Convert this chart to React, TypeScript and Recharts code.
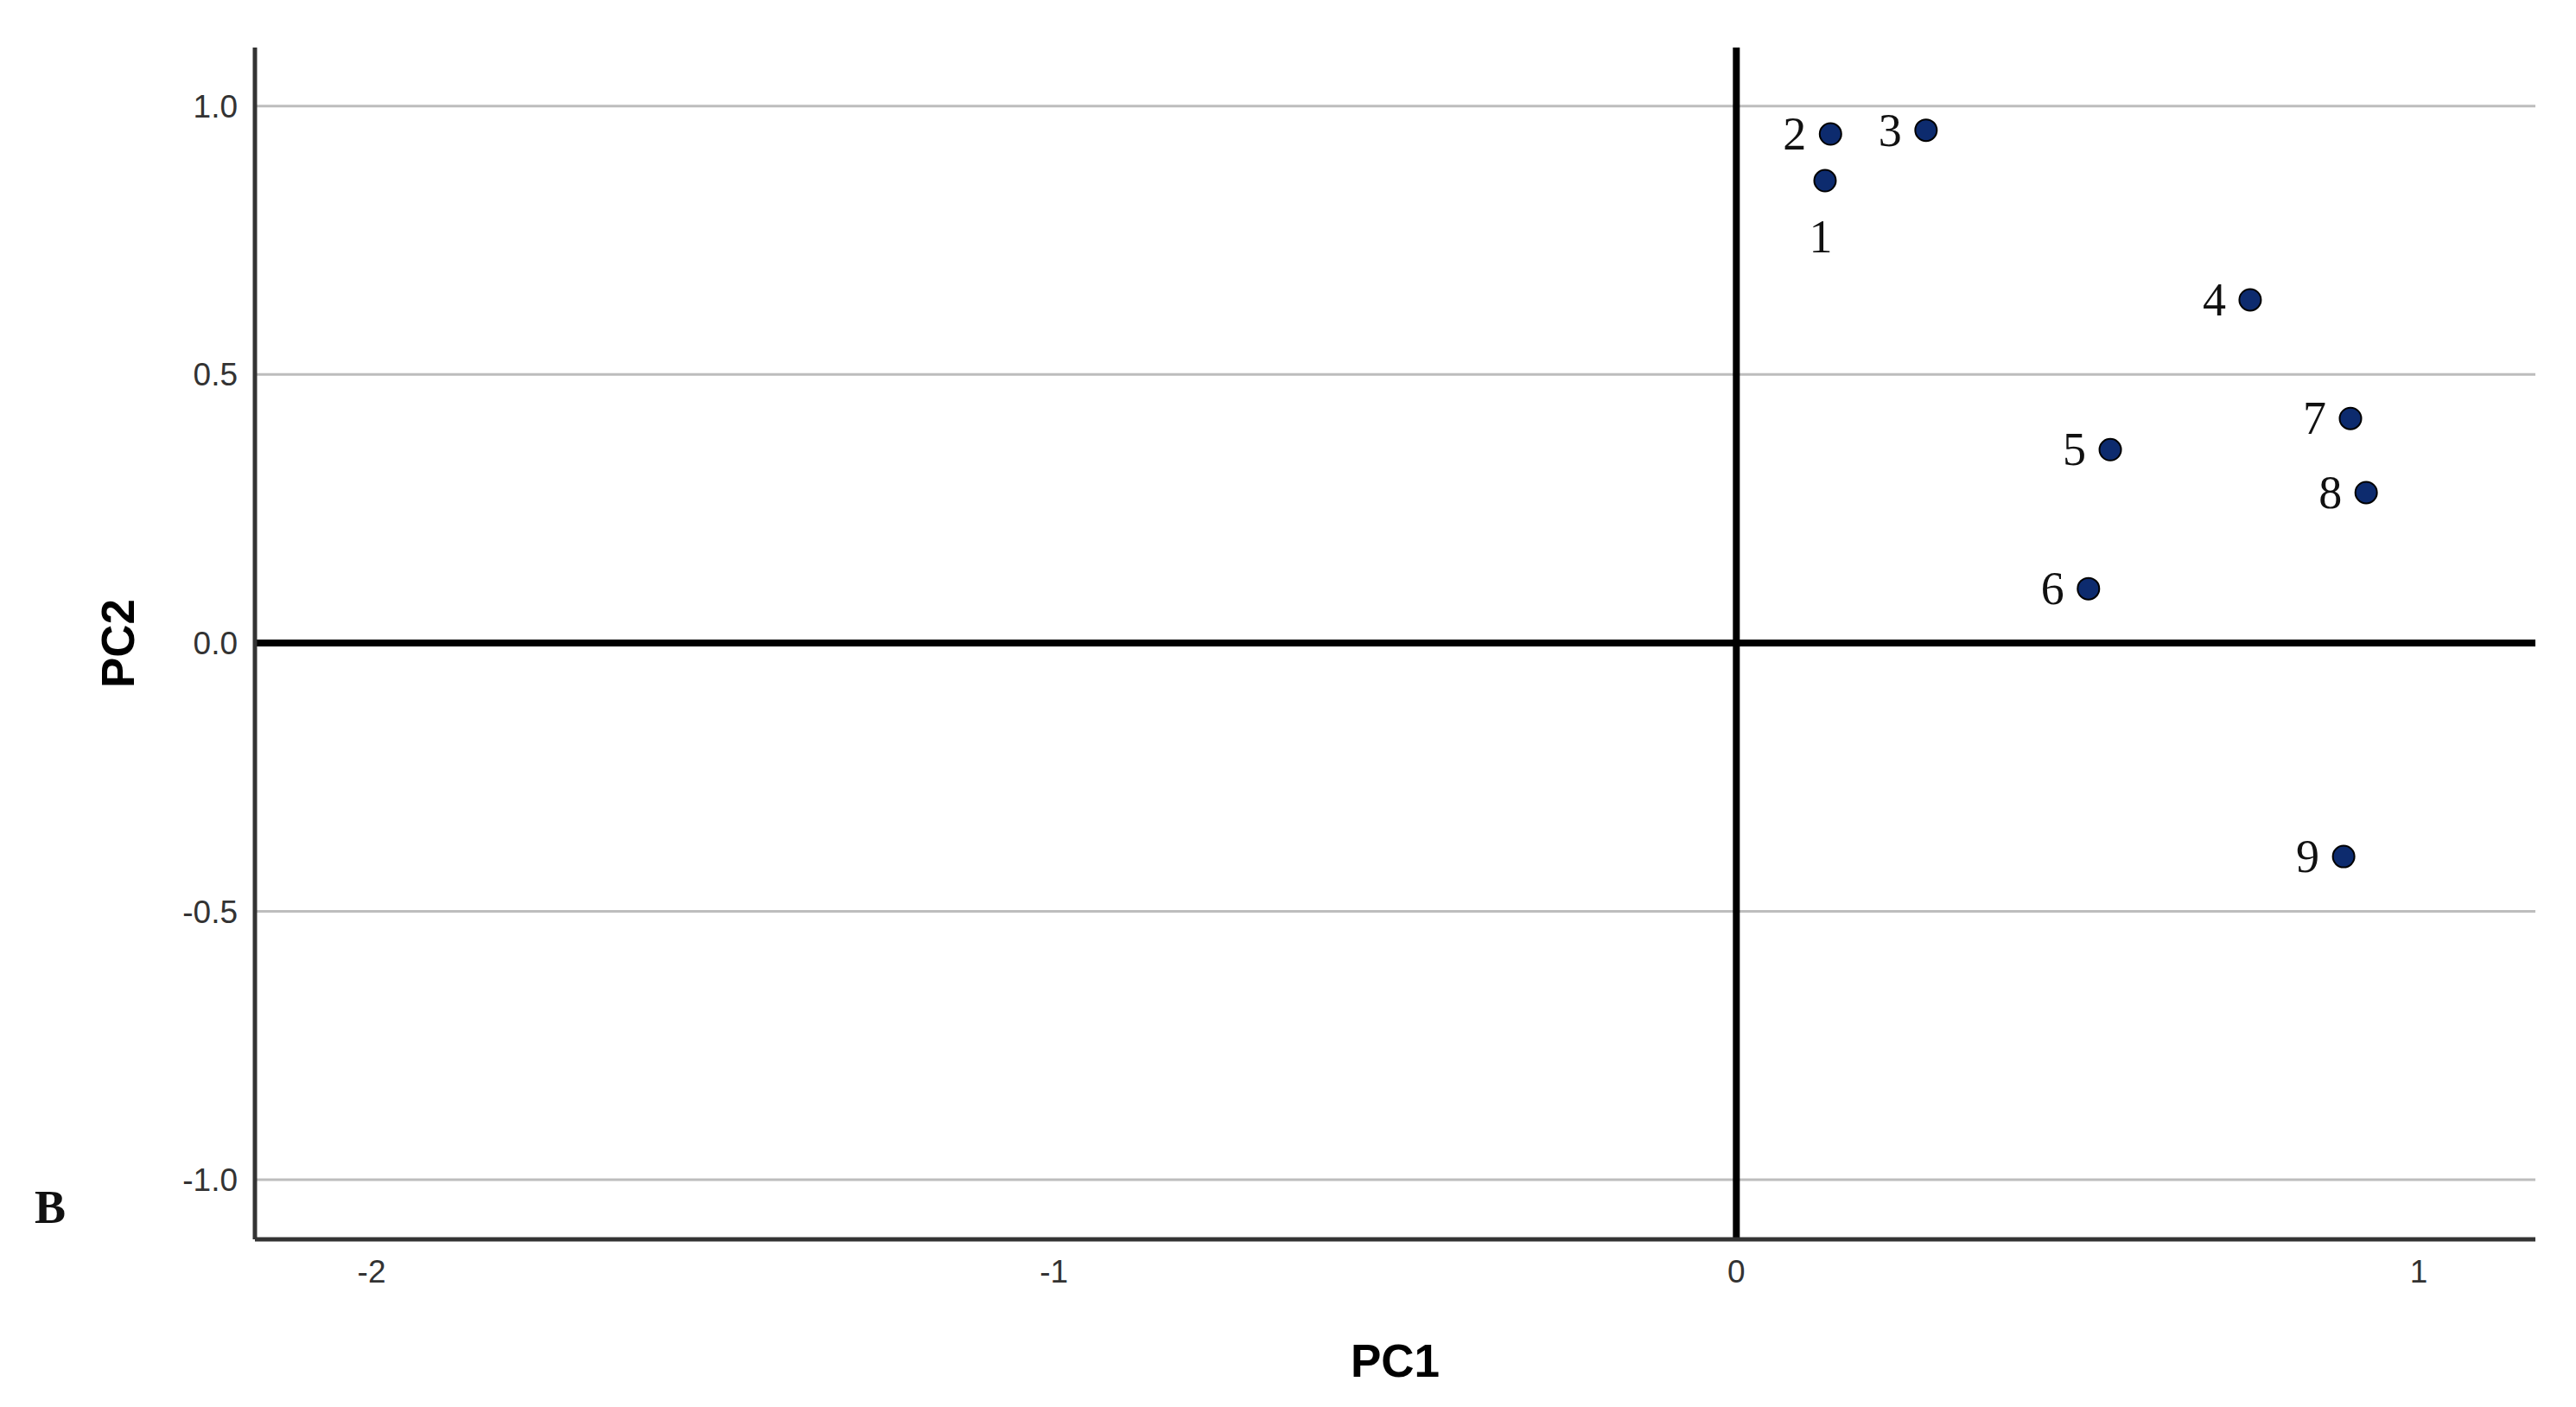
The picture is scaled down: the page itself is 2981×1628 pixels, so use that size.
import { ScatterChart, Scatter, XAxis, YAxis, ReferenceLine, Label } from 'recharts';

const ids = ['1', '2', '3', '4', '5', '6', '7', '8', '9'];
const pc1 = [0.130, 0.138, 0.278, 0.753, 0.548, 0.516, 0.900, 0.923, 0.890];
const pc2 = [0.861, 0.948, 0.955, 0.639, 0.360, 0.101, 0.418, 0.280, -0.398];
const xTicks = [-2, -1, 0, 1];
const yTicks = [-1, -0.5, 0, 0.5, 1];

const data = ids.map((id, i) => ({ id, x: pc1[i], y: pc2[i] }));

const tickStyle = { fontFamily: 'Liberation Sans, Arial, sans-serif', fontSize: 37, fill: '#333' };
const titleStyle = { fontFamily: 'Liberation Sans, Arial, sans-serif', fontSize: 53, fontWeight: 700, fill: '#000' };

// dot with its number: left of the dot, except point 1 which sits under it
const Dot = (props: any) => {
  const { cx, cy, payload } = props;
  const below = payload.id === '1';
  return (
    <g>
      <circle cx={cx} cy={cy} r={12.5} fill="#0d2b6e" stroke="#000" strokeWidth={2} />
      <text x={below ? cx - 5 : cx - 28} y={below ? cy + 83 : cy + 18} textAnchor={below ? 'middle' : 'end'}
        fontFamily="Liberation Serif, Times New Roman, serif" fontSize={54} fill="#111">{payload.id}</text>
    </g>
  );
};

export default function App() {
  return (
    <div style={{ position: 'relative', width: 2965, height: 1612, background: '#fff' }}>
      <ScatterChart width={2965} height={1612} margin={{ top: 47, right: 39, bottom: 0, left: 0 }}>
        <XAxis type="number" dataKey="x" domain={[-2.171, 1.171]} ticks={xTicks} height={186}
          axisLine={{ stroke: '#333', strokeWidth: 5 }} tickLine={false} tickSize={0} tickMargin={24} tick={tickStyle}
          allowDataOverflow>
          <Label content={({ viewBox }: any) => (
            <text x={viewBox.x + viewBox.width / 2} y={viewBox.y + viewBox.height - 27} textAnchor="middle" style={titleStyle}>PC1</text>
          )} />
        </XAxis>
        <YAxis type="number" dataKey="y" domain={[-1.111, 1.109]} ticks={yTicks} width={287}
          axisLine={{ stroke: '#333', strokeWidth: 5 }} tickLine={false} tickSize={0} tickMargin={20} tick={tickStyle}
          tickFormatter={(v: number) => v.toFixed(1)} allowDataOverflow>
          <Label content={({ viewBox }: any) => {
            const cx = 147;
            const cy = viewBox.y + viewBox.height / 2;
            return <text x={cx} y={cy} transform={`rotate(-90, ${cx}, ${cy})`} textAnchor="middle" style={titleStyle}>PC2</text>;
          }} />
        </YAxis>
        {yTicks.filter(t => t !== 0).map(t => (
          <ReferenceLine key={t} y={t} stroke="#bdbdbd" strokeWidth={3} />
        ))}
        <ReferenceLine y={0} stroke="#000" strokeWidth={8} />
        <ReferenceLine x={0} stroke="#000" strokeWidth={8} />
        <Scatter data={data} shape={<Dot />} isAnimationActive={false} />
      </ScatterChart>
      <div style={{ position: 'absolute', left: 32, top: 1358, fontFamily: 'Liberation Serif, Times New Roman, serif', fontWeight: 700, fontSize: 54, color: '#111' }}>B</div>
    </div>
  );
}
